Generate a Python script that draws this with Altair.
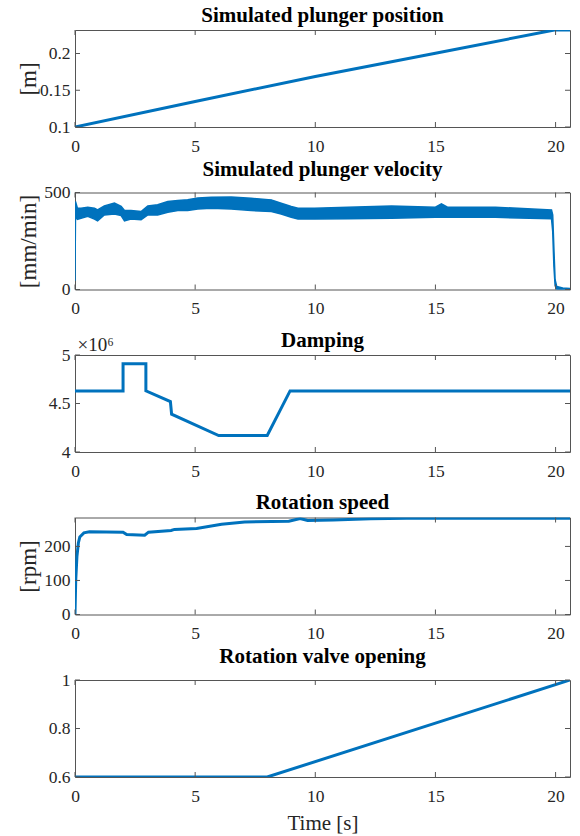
import altair as alt
import pandas as pd

BLUE = "#0072BD"
FRAME = "#555555"
TXT = "#262626"
FONT = "'Liberation Serif', 'Times New Roman', serif"
W, H = 495, 97
XMAX = 20.6

# ---------------- data ----------------
x_ticks = [0, 5, 10, 15, 20]

pos_t = [0, 5, 10, 15, 19.95, 20.6]
pos_v = [0.100, 0.1348, 0.1687, 0.2003, 0.232, 0.232]

vel_t = [0, 0.02, 0.1, 0.25, 0.53, 0.81, 0.94, 1.22, 1.64, 1.92, 2.06, 2.33, 2.75,
         3.03, 3.44, 3.86, 4.28, 4.69, 5.11, 5.67, 6.5, 7.33, 8.17, 8.58, 9.0, 9.28,
         9.97, 11.36, 13.17, 15.0, 15.25, 15.5, 17.5, 19.83, 19.88, 19.93, 19.98,
         20.05, 20.3, 20.6]
vel_hi = [60, 454, 419, 419, 424, 419, 410, 431, 445, 428, 407, 407, 402,
          431, 437, 454, 459, 463, 472, 475, 477, 470, 462, 445, 428, 419,
          419, 424, 431, 424, 442, 424, 424, 410, 385, 210, 50,
          15, 8, 5]
vel_lo = [45, 380, 362, 367, 377, 363, 354, 384, 389, 381, 354, 363, 360,
          384, 384, 398, 407, 407, 415, 419, 415, 407, 402, 389, 372, 363,
          363, 365, 367, 372, 372, 372, 372, 365, 300, 120, 20,
          0, -3, -3]

damp_t = [0, 2.0, 2.0, 2.95, 2.95, 3.97, 4.02, 5.98, 8.0, 8.95, 20.6]
damp_v = [4.63e6, 4.63e6, 4.91e6, 4.91e6, 4.63e6, 4.52e6, 4.39e6, 4.17e6, 4.17e6,
          4.63e6, 4.63e6]

rot_t = [0, 0.03, 0.08, 0.14, 0.2, 0.37, 0.6, 2.0, 2.15, 2.9, 3.06, 4.0, 4.14,
         5.06, 6.1, 7.06, 8.9, 9.37, 9.68, 10.75, 12.3, 13.8, 20.6]
rot_v = [0, 100, 170, 210, 228, 240, 243, 242, 235, 233, 242, 247, 250,
         253, 265, 272, 274, 282, 276, 278, 281, 283, 283]

valve_t = [0, 8.0, 20.6]
valve_v = [0.6, 0.6, 1.0]


def x_enc(title=None):
    ax = dict(values=x_ticks, ticks=False, domain=False, grid=False,
              labelFontSize=17.5, labelFont=FONT, labelColor=TXT, format="~r",
              labelPadding=10, labelFlush=False, title=title)
    if title:
        ax.update(titleFontSize=21, titleFont=FONT, titleFontWeight="normal",
                  titleColor=TXT, titlePadding=8)
    return alt.X("t:Q", scale=alt.Scale(domain=[0, XMAX], nice=False, zero=False),
                 axis=alt.Axis(**ax))


def y_enc(domain, ticks, title=None, label_expr=None, exponent=False):
    ax = dict(values=ticks, ticks=False, domain=False, grid=False,
              labelFontSize=17.5, labelFont=FONT, labelColor=TXT, format="~r",
              labelPadding=5, labelFlush=False, title=title)
    if label_expr:
        ax["labelExpr"] = label_expr
    if title and not exponent:
        ax.update(titleFontSize=23, titleFont=FONT, titleFontWeight="normal",
                  titleColor=TXT, titleX=-47, titleY=H / 2, titleBaseline="middle")
    if title and exponent:
        ax.update(titleFontSize=19, titleFont=FONT, titleFontWeight="normal",
                  titleColor=TXT, titleX=2, titleY=-5, titleAngle=0,
                  titleAlign="left", titleBaseline="alphabetic")
    return alt.Y("y:Q", scale=alt.Scale(domain=domain, nice=False, zero=False),
                 axis=alt.Axis(**ax))


def tick_layers(xe, ye, yticks):
    xt = pd.DataFrame({"t": x_ticks})
    yt = pd.DataFrame({"y": yticks})
    rule = dict(color=FRAME, strokeWidth=1)
    return [
        alt.Chart(xt).mark_rule(**rule).encode(x=xe, y=alt.value(H), y2=alt.value(H - 5)),
        alt.Chart(xt).mark_rule(**rule).encode(x=xe, y=alt.value(0), y2=alt.value(5)),
        alt.Chart(yt).mark_rule(**rule).encode(y=ye, x=alt.value(0), x2=alt.value(5)),
        alt.Chart(yt).mark_rule(**rule).encode(y=ye, x=alt.value(W), x2=alt.value(W - 5)),
    ]


def title(text, offset=4):
    return alt.TitleParams(text, fontSize=21, font=FONT, fontWeight="bold",
                           color="black", offset=offset, anchor="middle")


def line_panel(ts, vs, ttl, domain, yticks, ytitle=None, xtitle=None,
               label_expr=None, exponent=False, toff=4):
    df = pd.DataFrame({"t": ts, "y": vs, "i": list(range(len(ts)))})
    xe = x_enc(xtitle)
    ye = y_enc(domain, yticks, ytitle, label_expr, exponent)
    line = alt.Chart(df).mark_line(color=BLUE, strokeWidth=3, clip=True).encode(
        x=xe, y=ye, order="i:Q")
    layers = [line] + tick_layers(xe, ye, yticks)
    return alt.layer(*layers).properties(width=W, height=H, title=title(ttl, toff))


p1 = line_panel(pos_t, pos_v, "Simulated plunger position", [0.1, 0.232],
                [0.1, 0.15, 0.2], ytitle="[m]")

# velocity panel: noisy band drawn as an area between envelopes
vdf = pd.DataFrame({"t": vel_t, "y": vel_lo, "y2": vel_hi})
xe2 = x_enc()
ye2 = y_enc([0, 500], [0, 500], "[mm/min]")
band = alt.Chart(vdf).mark_area(color=BLUE, stroke=BLUE, strokeWidth=1.5, clip=True,
                                opacity=1).encode(x=xe2, y=ye2, y2="y2:Q")
p2 = alt.layer(band, *tick_layers(xe2, ye2, [0, 500])).properties(
    width=W, height=H, title=title("Simulated plunger velocity"))

p3 = line_panel(damp_t, damp_v, "Damping", [4e6, 5e6], [4e6, 4.5e6, 5e6],
                ytitle="\u00d710\u2076",
                label_expr="format(datum.value / 1e6, '~r')", exponent=True, toff=-16)

p4 = line_panel(rot_t, rot_v, "Rotation speed", [0, 285], [0, 100, 200], ytitle="[rpm]")
p5 = line_panel(valve_t, valve_v, "Rotation valve opening", [0.6, 1.0], [0.6, 0.8, 1.0],
                xtitle="Time [s]")

chart = alt.vconcat(p1, p2, p3, p4, p5, spacing=65.5, bounds="flush").properties(
    padding={"left": 16, "top": 4, "right": 6, "bottom": 4}
).configure(font=FONT, background="white").configure_view(
    stroke=FRAME, strokeWidth=1
).configure_axis(labelFont=FONT, titleFont=FONT).configure_title(font=FONT)

chart.save("out.html", embed_options={"renderer": "svg", "actions": False})
